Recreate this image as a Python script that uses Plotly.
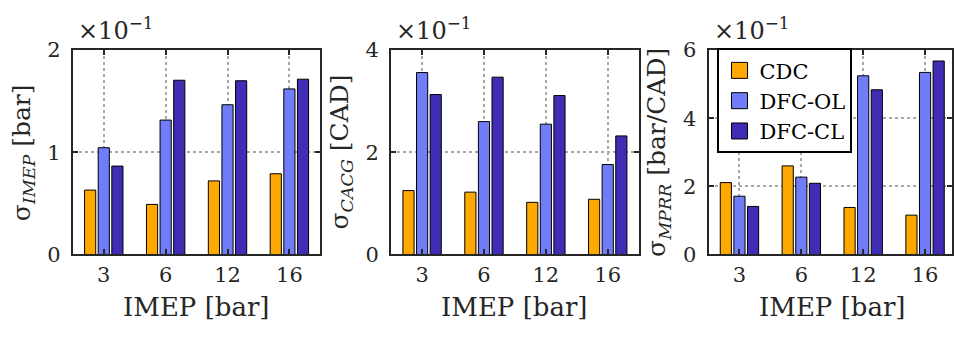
import plotly.graph_objects as go

# IMEP load points (categories)
imep = ["3", "6", "12", "16"]

# Values in units of 1e-1 (axes show x10^-1)
imep_cdc = [0.63, 0.49, 0.72, 0.79]
imep_ol = [1.045, 1.315, 1.465, 1.62]
imep_cl = [0.865, 1.705, 1.70, 1.715]

cacg_cdc = [1.25, 1.22, 1.02, 1.08]
cacg_ol = [3.56, 2.60, 2.55, 1.76]
cacg_cl = [3.13, 3.47, 3.11, 2.32]

mprr_cdc = [2.11, 2.60, 1.38, 1.155]
mprr_ol = [1.71, 2.27, 5.245, 5.345]
mprr_cl = [1.41, 2.09, 4.835, 5.68]

series_names = ["CDC", "DFC-OL", "DFC-CL"]
colors = ["#FFA800", "#707CF8", "#3F2DB6"]

y_ranges = [[0, 2], [0, 4], [0, 6]]
y_ticks = [[0, 1, 2], [0, 2, 4], [0, 2, 4, 6]]
y_titles = ["σ<sub><i>IMEP</i></sub> [bar]", "σ<sub><i>CACG</i></sub> [CAD]",
            "σ<sub><i>MPRR</i></sub> [bar/CAD]"]

panels = [(imep_cdc, imep_ol, imep_cl), (cacg_cdc, cacg_ol, cacg_cl),
          (mprr_cdc, mprr_ol, mprr_cl)]

W, H = 954, 338
x_px = [(73, 321), (392, 640), (710, 954)]
y_px = (41, 261)
FONT = "DejaVu Serif"
AX = "#262626"

fig = go.Figure()
for p, data in enumerate(panels):
    xa = "x" if p == 0 else f"x{p+1}"
    ya = "y" if p == 0 else f"y{p+1}"
    for s, vals in enumerate(data):
        fig.add_trace(go.Bar(
            x=imep, y=vals, name=series_names[s], xaxis=xa, yaxis=ya,
            marker=dict(color=colors[s], line=dict(color="black", width=1)),
            showlegend=False, legendgroup=series_names[s]))

# legend entries with larger square swatches
for s, name in enumerate(series_names):
    fig.add_trace(go.Scatter(
        x=[None], y=[None], mode="markers", name=name, xaxis="x3", yaxis="y3",
        marker=dict(symbol="square", size=16, color=colors[s],
                    line=dict(color="black", width=1)),
        legendgroup=name, showlegend=True))

layout = dict(
    width=W, height=H, margin=dict(l=0, r=0, t=0, b=0),
    paper_bgcolor="white", plot_bgcolor="white",
    barmode="group", bargap=0.34, bargroupgap=0.18,
    font=dict(family=FONT, size=21, color="#262626"),
    showlegend=True,
    legend=dict(x=719 / W, y=1 - 39 / H, xanchor="left", yanchor="top",
                bordercolor="black", borderwidth=2, bgcolor="white",
                font=dict(family=FONT, size=21, color="black"),
                tracegroupgap=0, itemsizing="trace", itemwidth=30),
)
annotations = []
for p in range(3):
    xk = "xaxis" if p == 0 else f"xaxis{p+1}"
    yk = "yaxis" if p == 0 else f"yaxis{p+1}"
    anchor_x = "y" if p == 0 else f"y{p+1}"
    anchor_y = "x" if p == 0 else f"x{p+1}"
    x0, x1 = x_px[p]
    layout[xk] = dict(
        domain=[x0 / W, x1 / W], anchor=anchor_x, type="category",
        categoryorder="array", categoryarray=imep,
        range=[-0.5, 3.5 if p < 2 else 3.5 - 4 * 4 / 248],
        showline=True, linecolor=AX, linewidth=2, mirror="ticks",
        ticks="inside", ticklen=5, tickcolor=AX, tickwidth=1.5,
        showgrid=True, gridcolor="#a8a8a8", griddash="dot", gridwidth=1.5,
        tickfont=dict(size=21), fixedrange=True)
    layout[yk] = dict(
        domain=[1 - y_px[1] / H, 1 - y_px[0] / H], anchor=anchor_y,
        range=y_ranges[p], tickvals=y_ticks[p],
        showline=True, linecolor=AX, linewidth=2, mirror="ticks",
        ticks="inside", ticklen=5, tickcolor=AX, tickwidth=1.5,
        showgrid=True, gridcolor="#a8a8a8", griddash="dot", gridwidth=1.5,
        zeroline=False, tickfont=dict(size=21), ticklabelstandoff=6)
    # x title
    annotations.append(dict(
        text="IMEP [bar]", xref="paper", yref="paper",
        x=(x0 + 248 / 2) / W, y=1 - 318 / H, xanchor="center", yanchor="middle",
        showarrow=False, font=dict(size=26)))
    # y title
    annotations.append(dict(
        text=y_titles[p], xref="paper", yref="paper",
        x=(x0 - 50) / W, y=1 - 151 / H, xanchor="center", yanchor="middle",
        textangle=-90, showarrow=False, font=dict(size=25)))
    # exponent
    annotations.append(dict(
        text="×10<sup>−1</sup>", xref="paper", yref="paper",
        x=(x0 + 3) / W, y=1 - 38 / H, xanchor="left", yanchor="bottom",
        showarrow=False, font=dict(size=24)))
layout["annotations"] = annotations
fig.update_layout(**layout)
fig.write_html("out.html")
